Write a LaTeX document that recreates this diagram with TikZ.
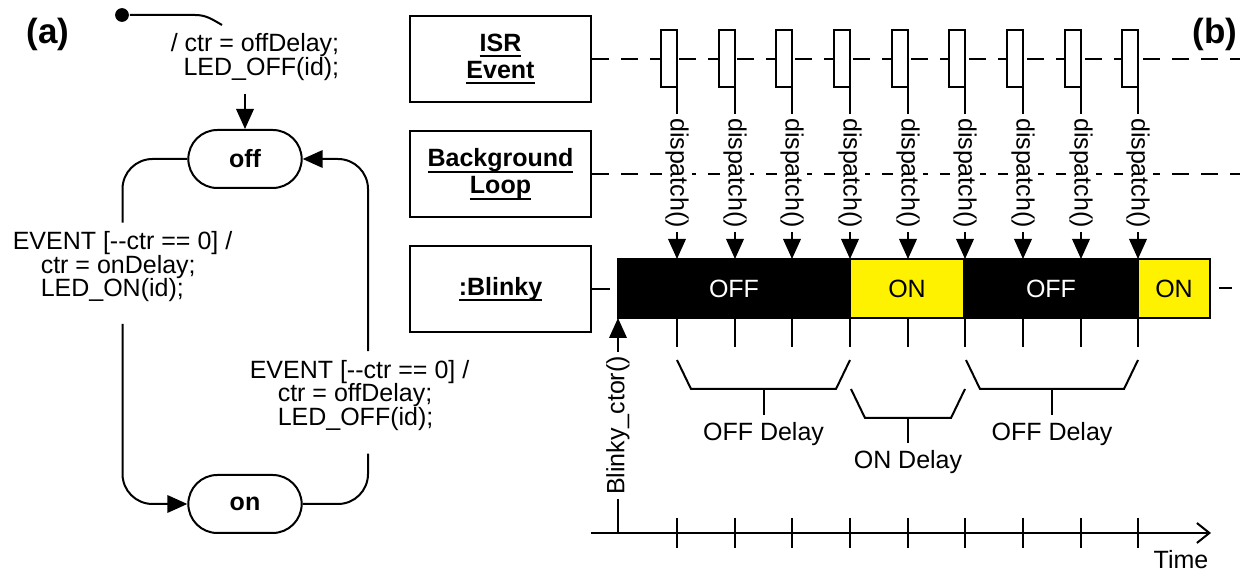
\documentclass[tikz,border=0pt]{standalone}
\usepackage{fontspec}
\setmainfont{Liberation Sans}
\usetikzlibrary{arrows.meta,positioning,shapes.misc}
\lineskiplimit=-10pt
% thick underline at a fixed depth
\newcommand{\ulname}[1]{\setbox0=\hbox{#1}\rlap{\rule[-2.4pt]{\wd0}{0.8pt}}\box0}
\begin{document}
\begin{tikzpicture}[x=0.4pt, y=-0.4pt, thick, font=\fontsize{10}{9.4}\selectfont,
    state/.style={rounded rectangle, draw, minimum width=52pt, minimum height=23.2pt, font=\fontsize{10}{12}\selectfont\bfseries},
    initdot/.style={circle, fill, inner sep=0pt, minimum size=5.5pt},
    trans/.style={align=left},
    lifebox/.style={rectangle, draw, minimum width=72.4pt, minimum height=34.4pt, align=center, font=\fontsize{10}{10.8}\selectfont\bfseries},
    life/.style={dash pattern=on 6.8pt off 4.8pt},
    pulse/.style={rectangle, draw, fill=white, minimum width=6.4pt, minimum height=22.8pt, inner sep=0pt, outer sep=0pt},
    offseg/.style={rectangle, draw, fill=black, text=white, minimum height=23.6pt, outer sep=0pt},
    onseg/.style={offseg, fill=yellow, text=black},
    arr/.style={-{Triangle[length=8pt,width=7pt]}},
    vlbl/.style={midway, fill=white, inner sep=1.5pt},
    panel/.style={font=\fontsize{14}{16}\selectfont\bfseries}
]
\useasboundingbox (0,0) rectangle (1249,571);

% (a) state machine
\node[panel] (pa) at (48,34) {(a)};
\node[initdot] (init) at (122,15) {};
\coordinate (initcut) at (222,25);
\draw (init) -- (195,15) to[out=0,in=150] (initcut);
\node[trans, align=right] (inittxt) at (255,57) {/ ctr = offDelay;\\LED\_OFF(id);};
\node[state] (off) at (245,159) {off};
\node[state] (on) at (245,504) {on};
\draw[arr] ([yshift=-1.6pt]inittxt.south -| off.north) -- (off.north);

\node[trans] (evon) at (122.5,267) {EVENT [-{}-ctr == 0] /\\\hspace*{11.2pt}ctr = onDelay;\\\hspace*{11.2pt}LED\_ON(id);};
\node[trans] (evoff) at (359.5,395.5) {EVENT [-{}-ctr == 0] /\\\hspace*{11.2pt}ctr = offDelay;\\\hspace*{11.2pt}LED\_OFF(id);};
\draw[rounded corners=12pt] (off.west) -| (evon.north);
\draw[arr, rounded corners=12pt] ([yshift=-5pt]evon.south) |- (on.west);
\draw[rounded corners=12pt] (on.east) -| ([xshift=3.4pt,yshift=-5.5pt]evoff.south);
\draw[arr, rounded corners=12pt] ([xshift=3.4pt]evoff.north) |- (off.east);

% (b) time line
\node[panel] (pb) at (1215,34) {(b)};
\node[lifebox] (isr) at (500.5,59) {\ulname{ISR}\\\ulname{Event}};
\node[lifebox] (bg) at (500.5,174) {\ulname{Background}\\\ulname{Loop}};
\node[lifebox] (blinky) at (500.5,289) {\ulname{:Blinky}};
\coordinate (isrend) at (1240,59);
\coordinate (bgend) at (1240,174);
\draw[life] (isr.east) -- (isrend);
\draw[life] (bg.east) -- (bgend);

\node[offseg, minimum width=92.8pt] (s1) at (734,288.5) {OFF};
\node[onseg, minimum width=45.6pt, right=0pt of s1] (s2) {ON};
\node[offseg, minimum width=69.6pt, right=0pt of s2] (s3) {OFF};
\node[onseg, minimum width=28.8pt, right=0pt of s3] (s4) {ON};
\draw (blinky.east) -- +(18,0);
\draw ([xshift=3.6pt]s4.east) -- +(13,0);

\foreach \i/\x in {1/677,2/735,3/792,4/850,5/908,6/965,7/1023,8/1081,9/1138} {
  \node[pulse, anchor=south east] (p\i) at (\x,87) {};
  \draw[arr] (p\i.south east) -- node[vlbl, rotate=-90] {dispatch()} (p\i.south east |- s1.north);
  \draw (p\i.south east |- s1.south) -- +(0,29);
}

\coordinate (t0) at (591,533);
\coordinate (t1) at (1211,533);
\draw[-{Straight Barb[length=5pt,width=8pt]}] (t0) -- (t1);
\foreach \i in {1,...,9}
  \draw (p\i.south east |- t0) ++(0,-15) -- ++(0,30);
\node (timelbl) at (1181,560) {Time};
\draw[arr] (s1.south west |- t0) -- node[vlbl, rotate=90] {Blinky\_ctor()} (s1.south west);

% delays
\draw (677,360) -- (691,389) -- (836,389) -- (850,360);
\draw (763.5,389) -- (763.5,415) node[below, inner sep=2.5pt] (offd1) {OFF Delay};
\draw (851,389) -- (865,418) -- (951,418) -- (965,389);
\draw (908,418) -- (908,443) node[below, inner sep=2.5pt] (ond) {ON Delay};
\draw (966,360) -- (980,389) -- (1124,389) -- (1138,360);
\draw (1052,389) -- (1052,415) node[below, inner sep=2.5pt] (offd2) {OFF Delay};
\end{tikzpicture}
\end{document}
